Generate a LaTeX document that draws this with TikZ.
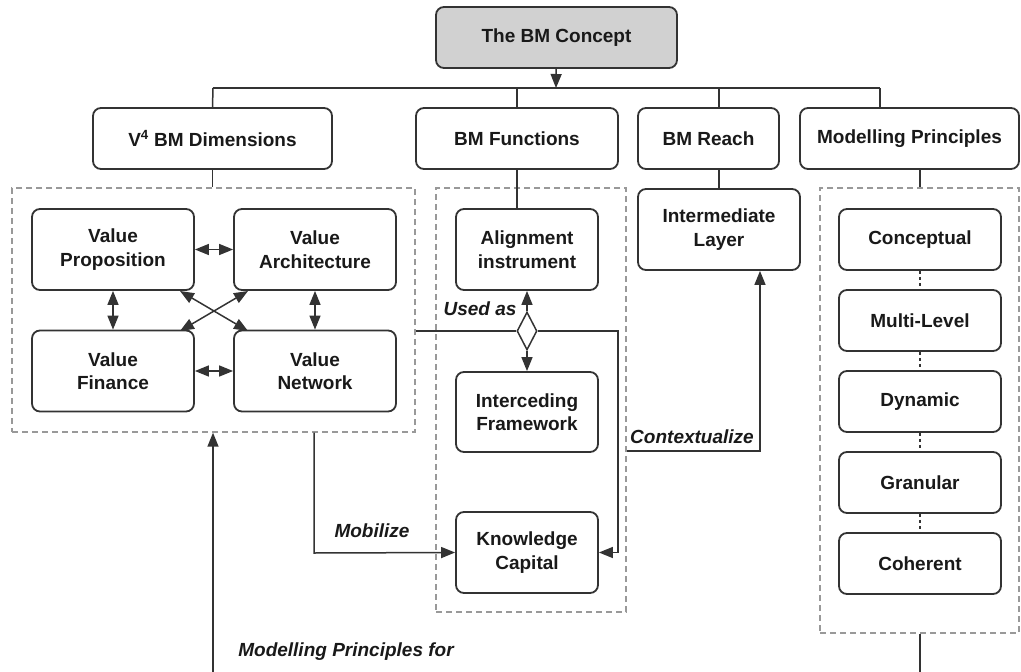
\documentclass[tikz,border=0pt]{standalone}
\usepackage{fontspec}
\setmainfont{Liberation Sans}
\usetikzlibrary{arrows.meta,shapes.geometric}

\begin{document}
\begin{tikzpicture}[x=1pt, y=-1pt,
  >={Triangle[length=14pt,width=11pt]},
  every node/.style={font=\fontsize{19}{23.5}\selectfont\bfseries, text=black!90},
  box/.style={draw=black!80, line width=1.8pt, rounded corners=8pt, align=center, inner sep=0pt},
  group/.style={draw=black!40, line width=1.4pt, dash pattern=on 6pt off 4pt, inner sep=0pt},
  link/.style={draw=black!80, line width=1.5pt},
  lbl/.style={font=\fontsize{19}{23}\selectfont\bfseries\itshape}]

\useasboundingbox (0,0) rectangle (1021,672);

% top row
\node[box, fill=black!18, minimum width=241pt, minimum height=61pt] (concept) at (556.5,37.5) {The BM Concept};
\node[box, minimum width=239pt, minimum height=61pt] (dims) at (212.5,138.5) {V\textsuperscript{4} BM Dimensions};
\node[box, minimum width=202pt, minimum height=61pt] (func) at (517,138.5) {BM Functions};
\node[box, minimum width=141pt, minimum height=61pt] (reach) at (708.5,138.5) {BM Reach};
\node[box, minimum width=219pt, minimum height=61pt] (mp) at (909.5,138.5) {Modelling Principles};

% dashed groups
\node[group, minimum width=403pt, minimum height=244pt] (dimsgrp) at (213.5,310) {};
\node[group, minimum width=190pt, minimum height=424pt] (funcgrp) at (531,400) {};
\node[group, minimum width=199pt, minimum height=445pt] (mpgrp) at (919.5,410.5) {};

% V4 dimensions
\node[box, minimum width=162pt, minimum height=81pt] (vp) at (113,249.5) {Value\\Proposition};
\node[box, minimum width=162pt, minimum height=81pt] (va) at (315,249.5) {Value\\Architecture};
\node[box, minimum width=162pt, minimum height=81pt] (vf) at (113,371) {Value\\Finance};
\node[box, minimum width=162pt, minimum height=81pt] (vn) at (315,371) {Value\\Network};

% BM functions
\node[box, minimum width=142pt, minimum height=81pt] (align) at (527,249.5) {Alignment\\instrument};
\node[box, minimum width=142pt, minimum height=80pt] (interc) at (527,412) {Interceding\\Framework};
\node[box, minimum width=142pt, minimum height=81pt] (know) at (527,552.5) {Knowledge\\Capital};
\node[draw=black!80, line width=1.5pt, fill=white, diamond, minimum width=20pt, minimum height=38pt, inner sep=0pt] (split) at (527,331) {};

% BM reach
\node[box, minimum width=162pt, minimum height=81pt] (layer) at (719,229.5) {Intermediate\\Layer};

% modelling principles
\node[box, minimum width=162pt, minimum height=61pt] (conc) at (920,239.5) {Conceptual};
\node[box, minimum width=162pt, minimum height=61pt] (multi) at (920,320.5) {Multi-Level};
\node[box, minimum width=162pt, minimum height=61pt] (dyn) at (920,401.5) {Dynamic};
\node[box, minimum width=162pt, minimum height=61pt] (gran) at (920,482.5) {Granular};
\node[box, minimum width=162pt, minimum height=61pt] (coh) at (920,563.5) {Coherent};

\coordinate (busL) at (213,88);
\coordinate (busR) at (880,88);
\coordinate (busM) at (556,88);
\coordinate (usedR) at (618,331);
\coordinate (ctx) at (760,451);
\coordinate (mob) at (314,553);
\coordinate (mpfor) at (213,672);
\coordinate (mpout) at (920,672);
\coordinate (x1) at (180,291);
\coordinate (x2) at (248,331);
\coordinate (x3) at (180,331);
\coordinate (x4) at (248,291);

% tree
\draw[link, ->] (concept) -- (busM);
\draw[link] (busL) -- (busR);
\draw[link] (busL) -- (dims.north);
\draw[link] (func.north |- busL) -- (func.north);
\draw[link] (layer.north |- busL) -- (layer.north |- reach.north);
\draw[link] (busR) -- (busR |- mp.north);
\draw[link] (dims.south) -- (dims.south |- dimsgrp.north);
\draw[link] (func.south) -- (func.south |- align.north);
\draw[link] (layer.north |- reach.south) -- (layer.north);
\draw[link] (conc.north |- mp.south) -- (conc.north |- mpgrp.north);

% V4 links
\draw[link, <->] (vp) -- (va);
\draw[link, <->] (vf) -- (vn);
\draw[link, <->] (vp) -- (vf);
\draw[link, <->] (va) -- (vn);
\draw[link, <->] (x1) -- (x2);
\draw[link, <->] (x3) -- (x4);

% functions
\draw[link, ->] (split.north) -- (align.south);
\draw[link, ->] (split.south) -- (interc.north);
\draw[link] (dimsgrp.east |- split) -- (split.west);
\draw[link, ->] (split.east) -- (usedR) |- (know.east);
\node[lbl] (usedas) at (480,309) {Used as};

\draw[link, ->] (funcgrp.east |- ctx) -- (ctx) -- (ctx |- layer.south);
\node[lbl] (ctxlbl) at (692,437) {Contextualize};

\draw[link, ->] (mob |- dimsgrp.south) -- (mob) -- (know.west);
\node[lbl] (moblbl) at (372,531) {Mobilize};

\draw[link, ->] (mpfor) -- (mpfor |- dimsgrp.south);
\node[lbl] (mpforlbl) at (346,652) {Modelling Principles for};

\draw[link] (mpgrp.south -| mpout) -- (mpout);
\foreach \a/\b in {conc/multi, multi/dyn, dyn/gran, gran/coh}
  \draw[link, dashed] (\a) -- (\b);

\end{tikzpicture}
\end{document}
